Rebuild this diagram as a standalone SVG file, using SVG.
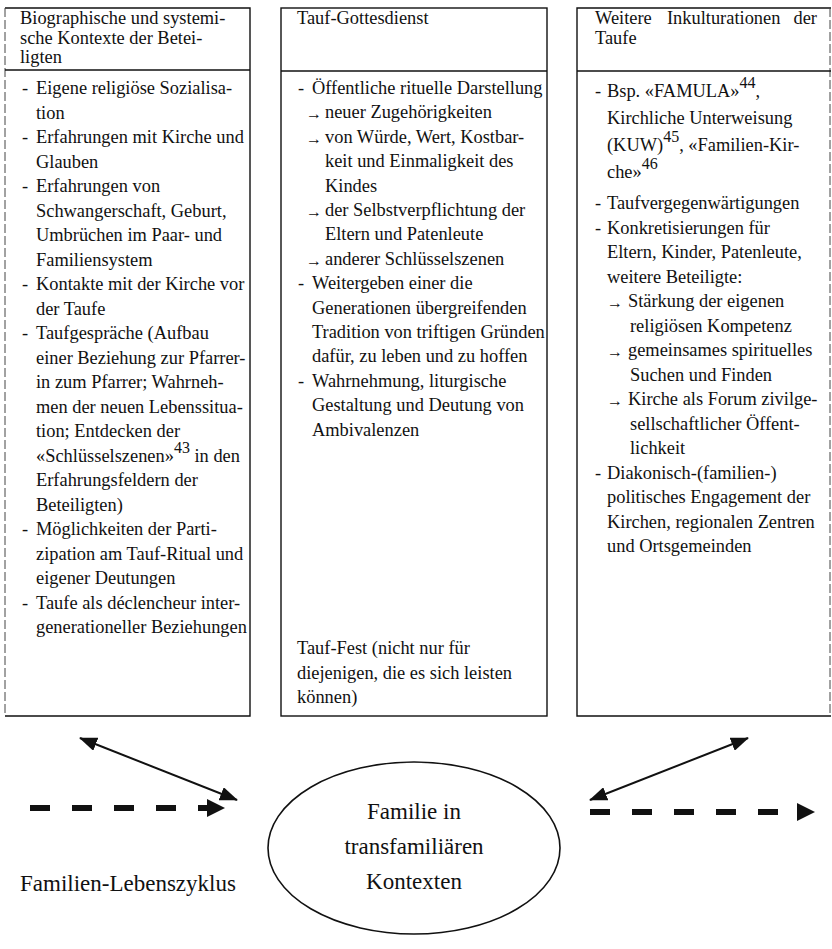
<svg xmlns="http://www.w3.org/2000/svg" width="832" height="949" viewBox="0 0 832 949">
<style>
text{font-family:"Liberation Serif","Times New Roman",serif;fill:#111}
.t{font-size:18.4px}
.h{font-size:18.4px}
.big{font-size:23px}
.ar{font-size:16px}
.sup{font-size:16px}
.box{fill:none;stroke:#111;stroke-width:1.4}
.brk{fill:none;stroke:#444;stroke-width:1;stroke-dasharray:9 3}
.con{stroke:#111;stroke-width:2;fill:none}
.dash{stroke:#111;stroke-width:6;fill:none;stroke-dasharray:20 22}
</style>
<defs>
<marker id="ah" markerWidth="18" markerHeight="14" refX="17" refY="7" orient="auto-start-reverse" markerUnits="userSpaceOnUse">
<path d="M0,0 L18,7 L0,14 Z" fill="#111"/>
</marker>
</defs>

<g id="box-left">
<path class="box" d="M5,8 H250 V716 H5"/>
<path class="brk" d="M5,8 V716"/>
<line class="box" x1="5" y1="70" x2="250" y2="70"/>
<text class="h" x="20" y="24">Biographische und systemi-</text>
<text class="h" x="20" y="44">sche Kontexte der Betei-</text>
<text class="h" x="20" y="63">ligten</text>
<g class="t">
<text x="22" y="94">-</text><text x="36" y="94">Eigene religiöse Sozialisa-</text>
<text x="36" y="118.5">tion</text>
<text x="22" y="143">-</text><text x="36" y="143">Erfahrungen mit Kirche und</text>
<text x="36" y="167.5">Glauben</text>
<text x="22" y="192">-</text><text x="36" y="192">Erfahrungen von</text>
<text x="36" y="216.5">Schwangerschaft, Geburt,</text>
<text x="36" y="241">Umbrüchen im Paar- und</text>
<text x="36" y="265.5">Familiensystem</text>
<text x="22" y="290">-</text><text x="36" y="290">Kontakte mit der Kirche vor</text>
<text x="36" y="314.5">der Taufe</text>
<text x="22" y="339">-</text><text x="36" y="339">Taufgespräche (Aufbau</text>
<text x="36" y="363.5">einer Beziehung zur Pfarrer-</text>
<text x="36" y="388">in zum Pfarrer; Wahrneh-</text>
<text x="36" y="412.5">men der neuen Lebenssitua-</text>
<text x="36" y="437">tion; Entdecken der</text>
<text x="36" y="461.5">«Schlüsselszenen»<tspan class="sup" dy="-9">43</tspan><tspan dy="9"> in den</tspan></text>
<text x="36" y="486">Erfahrungsfeldern der</text>
<text x="36" y="510.5">Beteiligten)</text>
<text x="22" y="535">-</text><text x="36" y="535">Möglichkeiten der Parti-</text>
<text x="36" y="559.5">zipation am Tauf-Ritual und</text>
<text x="36" y="584">eigener Deutungen</text>
<text x="22" y="608.5">-</text><text x="36" y="608.5">Taufe als déclencheur inter-</text>
<text x="36" y="633">generationeller Beziehungen</text>
</g>
</g>

<g id="box-middle">
<rect class="box" x="281" y="8" width="266" height="708"/>
<line class="box" x1="281" y1="71" x2="547" y2="71"/>
<text class="h" x="297" y="24">Tauf-Gottesdienst</text>
<g class="t">
<text x="298" y="94">-</text><text x="312" y="94">Öffentliche rituelle Darstellung</text>
<text class="ar" x="306" y="119.4">→</text><text x="325" y="118.4">neuer Zugehörigkeiten</text>
<text class="ar" x="306" y="143.8">→</text><text x="325" y="142.8">von Würde, Wert, Kostbar-</text>
<text x="325" y="167.2">keit und Einmaligkeit des</text>
<text x="325" y="191.6">Kindes</text>
<text class="ar" x="306" y="217">→</text><text x="325" y="216">der Selbstverpflichtung der</text>
<text x="325" y="240.4">Eltern und Patenleute</text>
<text class="ar" x="306" y="265.8">→</text><text x="325" y="264.8">anderer Schlüsselszenen</text>
<text x="298" y="289.2">-</text><text x="312" y="289.2">Weitergeben einer die</text>
<text x="312" y="313.6">Generationen übergreifenden</text>
<text x="312" y="338">Tradition von triftigen Gründen</text>
<text x="312" y="362.4">dafür, zu leben und zu hoffen</text>
<text x="298" y="386.8">-</text><text x="312" y="386.8">Wahrnehmung, liturgische</text>
<text x="312" y="411.2">Gestaltung und Deutung von</text>
<text x="312" y="435.6">Ambivalenzen</text>
<text x="297" y="654">Tauf-Fest (nicht nur für</text>
<text x="297" y="678.5">diejenigen, die es sich leisten</text>
<text x="297" y="703">können)</text>
</g>
</g>

<g id="box-right">
<path class="box" d="M831,8 H577 V716 H831"/>
<path class="brk" d="M830,8 V716"/>
<line class="box" x1="577" y1="71" x2="831" y2="71"/>
<text class="h" x="595" y="24">Weitere</text>
<text class="h" x="667" y="24">Inkulturationen</text>
<text class="h" x="817" y="24" text-anchor="end">der</text>
<text class="h" x="595" y="44">Taufe</text>
<g class="t">
<text x="595" y="97">-</text><text x="607" y="97">Bsp. «FAMULA»<tspan class="sup" dy="-9">44</tspan><tspan dy="9">,</tspan></text>
<text x="607" y="124">Kirchliche Unterweisung</text>
<text x="607" y="151">(KUW)<tspan class="sup" dy="-9">45</tspan><tspan dy="9">, «Familien-Kir-</tspan></text>
<text x="607" y="178">che»<tspan class="sup" dy="-9">46</tspan></text>
<text x="595" y="209">-</text><text x="607" y="209">Taufvergegenwärtigungen</text>
<text x="595" y="233.5">-</text><text x="607" y="233.5">Konkretisierungen für</text>
<text x="607" y="258">Eltern, Kinder, Patenleute,</text>
<text x="607" y="282.5">weitere Beteiligte:</text>
<text class="ar" x="607" y="308">→</text><text x="628" y="307">Stärkung der eigenen</text>
<text x="630" y="331.5">religiösen Kompetenz</text>
<text class="ar" x="607" y="357">→</text><text x="628" y="356">gemeinsames spirituelles</text>
<text x="630" y="380.5">Suchen und Finden</text>
<text class="ar" x="607" y="406">→</text><text x="628" y="405">Kirche als Forum zivilge-</text>
<text x="630" y="429.5">sellschaftlicher Öffent-</text>
<text x="630" y="454">lichkeit</text>
<text x="595" y="478.5">-</text><text x="607" y="478.5">Diakonisch-(familien-)</text>
<text x="607" y="503">politisches Engagement der</text>
<text x="607" y="527.5">Kirchen, regionalen Zentren</text>
<text x="607" y="552">und Ortsgemeinden</text>
</g>
</g>

<g id="family">
<ellipse cx="414" cy="848" rx="146" ry="86" fill="none" stroke="#111" stroke-width="1.6"/>
<text class="big" x="414" y="819" text-anchor="middle">Familie in</text>
<text class="big" x="414" y="854" text-anchor="middle">transfamiliären</text>
<text class="big" x="414" y="889" text-anchor="middle">Kontexten</text>
</g>

<g id="lifecycle-label">
<text class="big" x="20" y="891">Familien-Lebenszyklus</text>
</g>

<g id="connectors">
<line class="con" x1="80" y1="738" x2="237" y2="800" marker-start="url(#ah)" marker-end="url(#ah)"/>
<line class="con" x1="748" y1="738" x2="590" y2="800" marker-start="url(#ah)" marker-end="url(#ah)"/>
<line class="dash" x1="30" y1="808" x2="210" y2="808"/>
<path d="M207,799 L225,808 L207,817 Z" fill="#111"/>
<line class="dash" x1="590" y1="812" x2="784" y2="812"/>
<path d="M797,803 L815,812 L797,821 Z" fill="#111"/>
</g>
</svg>
